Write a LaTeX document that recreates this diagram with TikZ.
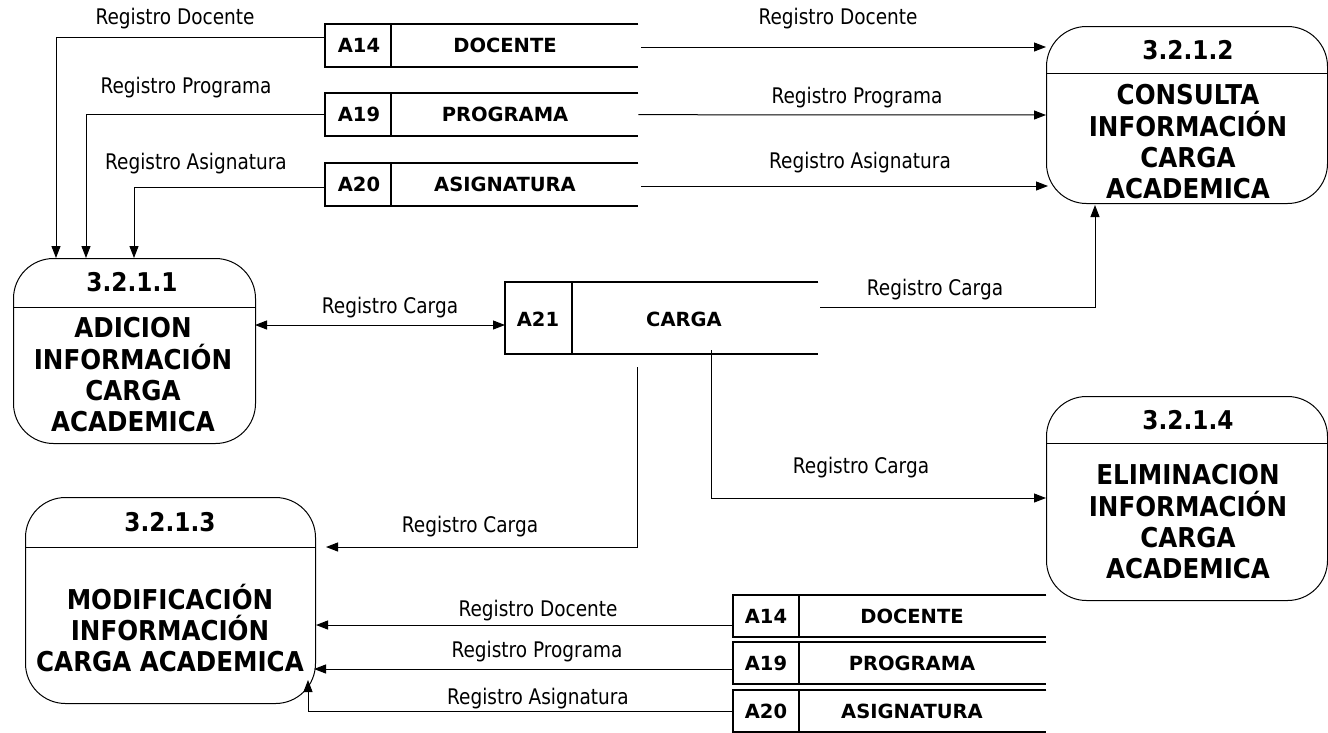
\documentclass[tikz,border=0pt]{standalone}
\usepackage{fontspec}
\setmainfont{DejaVu Sans}
\newfontfamily\lblfont{DejaVu Sans}[FakeStretch=0.86]
\newfontfamily\bcond{DejaVu Sans}[FakeStretch=0.9]
\usetikzlibrary{arrows.meta,calc}
\tikzset{
  lbl/.style={font=\lblfont\fontsize{21.5}{25}\selectfont, inner sep=0pt},
  stid/.style={font=\bfseries\fontsize{19.5}{23}\selectfont, inner sep=0pt},
  ttl/.style={font=\bcond\bfseries\fontsize{25.8}{30}\selectfont, inner sep=0pt},
  body/.style={font=\bcond\bfseries\fontsize{27.3}{31.3}\selectfont, inner sep=0pt, align=center},
  proc/.style={draw, line width=1pt, rounded corners=40pt, anchor=north west, inner sep=0pt},
  storebox/.style={anchor=north west, inner sep=0pt},
  sline/.style={line width=2pt},
  flow/.style={line width=1pt, -{Triangle[length=12pt,width=9pt]}},
  bflow/.style={line width=1pt, {Triangle[length=12pt,width=9pt]}-{Triangle[length=12pt,width=9pt]}},
}
\begin{document}
\begin{tikzpicture}[x=1pt,y=-1pt]
\useasboundingbox[fill=white] (0,0) rectangle (1328,732);

% ---------- processes ----------
\node[proc, minimum width=242pt, minimum height=185pt] (p1) at (13,258) {};
\draw[line width=1pt] (p1.west |- 0,307) -- (p1.east |- 0,307);
\node[ttl] (p1t) at (132,282.5) {3.2.1.1};
\node[body] (p1b) at (133,375) {ADICION\\INFORMACIÓN\\CARGA\\ACADEMICA};

\node[proc, minimum width=281pt, minimum height=177pt] (p2) at (1046,26) {};
\draw[line width=1pt] (p2.west |- 0,73) -- (p2.east |- 0,73);
\node[ttl] (p2t) at (1188,50) {3.2.1.2};
\node[body] (p2b) at (1188,142) {CONSULTA\\INFORMACIÓN\\CARGA\\ACADEMICA};

\node[proc, minimum width=281pt, minimum height=204pt] (p4) at (1046,396) {};
\draw[line width=1pt] (p4.west |- 0,443) -- (p4.east |- 0,443);
\node[ttl] (p4t) at (1188,420.5) {3.2.1.4};
\node[body] (p4b) at (1188,522) {ELIMINACION\\INFORMACIÓN\\CARGA\\ACADEMICA};

\node[proc, minimum width=290pt, minimum height=206pt] (p3) at (25,497) {};
\draw[line width=1pt] (p3.west |- 0,547) -- (p3.east |- 0,547);
\node[ttl] (p3t) at (170,522) {3.2.1.3};
\node[body, font=\bcond\bfseries\fontsize{27.3}{31}\selectfont] (p3b) at (170,628) {MODIFICACIÓN\\INFORMACIÓN\\CARGA ACADEMICA};

% ---------- stores (top) ----------
\foreach \nm/\id/\txt/\yy in {s14/A14/DOCENTE/24, s19/A19/PROGRAMA/93, s20/A20/ASIGNATURA/163}{
  \node[storebox, minimum width=313pt, minimum height=43pt] (\nm) at (325,\yy) {};
  \draw[sline] (\nm.north east) -- (\nm.north west) -- (\nm.south west) -- (\nm.south east);
  \draw[sline] ($(\nm.north west)+(66,0)$) -- ($(\nm.south west)+(66,0)$);
  \node[stid] at ($(\nm.west)+(34,0)$) {\id};
  \node[stid] at ($(\nm.west)+(180,0)$) {\txt};
}

% ---------- store A21 ----------
\node[storebox, minimum width=313pt, minimum height=72pt] (s21) at (505,282) {};
\draw[sline] (s21.north east) -- (s21.north west) -- (s21.south west) -- (s21.south east);
\draw[sline] ($(s21.north west)+(67,0)$) -- ($(s21.south west)+(67,0)$);
\node[stid] (s21a) at (538,319.5) {A21};
\node[stid] (s21b) at (684,319.5) {CARGA};

% ---------- stores (bottom) ----------
\foreach \nm/\id/\txt/\yy in {b14/A14/DOCENTE/595, b19/A19/PROGRAMA/642, b20/A20/ASIGNATURA/690}{
  \node[storebox, minimum width=313pt, minimum height=42pt] (\nm) at (733,\yy) {};
  \draw[sline] (\nm.north east) -- (\nm.north west) -- (\nm.south west) -- (\nm.south east);
  \draw[sline] ($(\nm.north west)+(66,0)$) -- ($(\nm.south west)+(66,0)$);
  \node[stid] at ($(\nm.west)+(33,0)$) {\id};
  \node[stid] at ($(\nm.west)+(179,0)$) {\txt};
}

% ---------- flows ----------
\draw[flow] (325,37) -| (56,258);
\draw[flow] (s19.west) -| (86,258);
\draw[flow] (325,187) -| (134,258);

\draw[flow] (641,47) -- (1046,47);
\draw[flow] (s19.east) -- (1046,115);
\draw[flow] (641,186) -- (1048,186);

\draw[bflow] (255,325) -- (s21.west |- 0,325);
\draw[flow] (820,307) -| (1095,205);
\draw[flow] (637,367) |- (326,547);
\draw[flow] (711,350) |- (1046,498);

\draw[flow] (b14.west |- 0,625) -- (316,625);
\draw[flow] (b19.west |- 0,669) -- (314,669);
\draw[flow] (b20.west |- 0,711) -| (308,680);

% ---------- labels ----------
\node[lbl] at (175,19) {Registro Docente};
\node[lbl] at (186,88) {Registro Programa};
\node[lbl] at (196,164) {Registro Asignatura};
\node[lbl] at (838,19) {Registro Docente};
\node[lbl] at (857,98) {Registro Programa};
\node[lbl] at (860,163) {Registro Asignatura};
\node[lbl] at (390,308) {Registro Carga};
\node[lbl] at (935,290) {Registro Carga};
\node[lbl] at (861,468) {Registro Carga};
\node[lbl] at (470,527) {Registro Carga};
\node[lbl] at (538,611) {Registro Docente};
\node[lbl] at (537,652) {Registro Programa};
\node[lbl] at (538,699) {Registro Asignatura};
\end{tikzpicture}
\end{document}
